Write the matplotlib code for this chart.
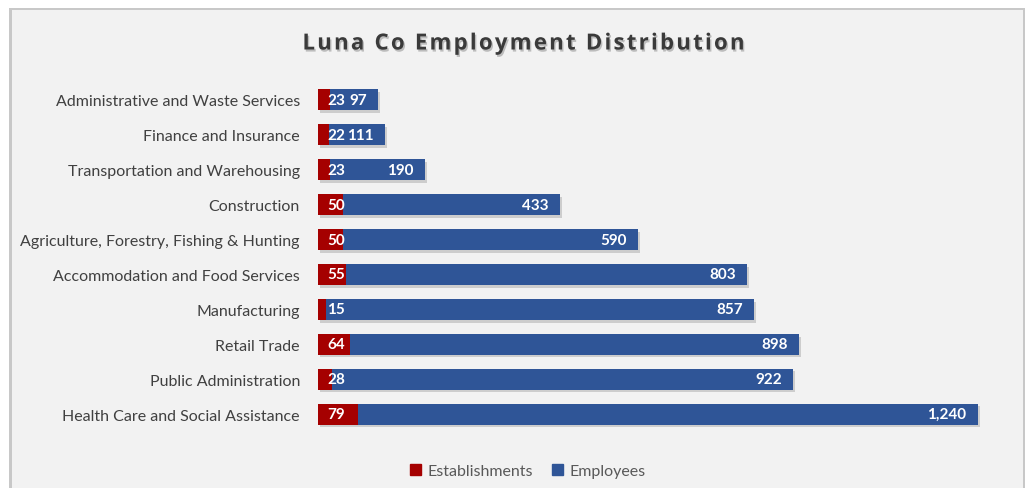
import matplotlib.pyplot as plt
import matplotlib.patheffects as pe
from matplotlib.patches import Rectangle
import numpy as np

# employment by industry, top row first
industries = [
    "Administrative and Waste Services",
    "Finance and Insurance",
    "Transportation and Warehousing",
    "Construction",
    "Agriculture, Forestry, Fishing & Hunting",
    "Accommodation and Food Services",
    "Manufacturing",
    "Retail Trade",
    "Public Administration",
    "Health Care and Social Assistance",
]
establishments = [23, 22, 23, 50, 50, 55, 15, 64, 28, 79]
employees = [97, 111, 190, 433, 590, 803, 857, 898, 922, 1240]
title = "Luna Co Employment Distribution"

red = "#a50000"
blue = "#2f5597"
text_gray = "#404040"

fig = plt.figure(figsize=(10.29, 4.89), dpi=100)
fig.patch.set_facecolor("white")

# chart frame with a soft shadow on the left and top
fig.patches.append(Rectangle((9 / 1029, 0), 1016 / 1029, 480 / 489, transform=fig.transFigure,
                             facecolor="#c8c8c8", edgecolor="none", zorder=-2))
fig.patches.append(Rectangle((12 / 1029, 0), 1011 / 1029, 478 / 489, transform=fig.transFigure,
                             facecolor="#f2f2f2", edgecolor="none", zorder=-1))

ax = fig.add_axes([318 / 1029, 56.5 / 489, 700 / 1029, 349 / 489])
ax.set_facecolor("none")

y = np.arange(len(industries))
shadow = [pe.SimplePatchShadow(offset=(1.5, -2), shadow_rgbFace="#8a8a8a", alpha=0.35), pe.Normal()]
b1 = ax.barh(y, establishments, height=0.6, color=red, label="Establishments", path_effects=shadow)
b2 = ax.barh(y, employees, left=establishments, height=0.6, color=blue, label="Employees",
             path_effects=shadow)

for i in range(len(industries)):
    ax.annotate(f"{establishments[i]:,}", (0, y[i]), xytext=(6.5, 0), textcoords="offset points",
                ha="left", va="center", color="white", fontsize=11, fontweight="bold",
                family="Lato")
    ax.annotate(f"{employees[i]:,}", (establishments[i] + employees[i], y[i]), xytext=(-8, 0),
                textcoords="offset points", ha="right", va="center", color="white",
                fontsize=11, fontweight="bold", family="Lato")

ax.set_xlim(0, 1400)
ax.set_ylim(len(industries) - 0.5, -0.5)
ax.set_yticks(y)
ax.set_yticklabels(industries, fontsize=11.5, color=text_gray, family="Lato")
ax.tick_params(axis="y", length=0, pad=13)
ax.set_xticks([])
for s in ax.spines.values():
    s.set_visible(False)

# spaced-out title with a drop shadow
fig.text(524 / 1029, 1 - 45 / 489, "\u200a".join(title), ha="center", va="center",
         fontsize=16, fontweight="bold", color="#3a3a3a", family="Open Sans",
         path_effects=[pe.withSimplePatchShadow(offset=(1, -1.5), shadow_rgbFace="#999999", alpha=0.6)])

handles = [Rectangle((0, 0), 1, 1, color=red), Rectangle((0, 0), 1, 1, color=blue)]
fig.legend(handles=handles, labels=["Establishments", "Employees"], loc="center",
           bbox_to_anchor=(528 / 1029, 1 - 472 / 489), ncol=2, frameon=False,
           handlelength=0.7, handleheight=0.7, handletextpad=0.4, columnspacing=1.2,
           prop={"family": "Lato", "size": 11.5}, labelcolor="#595959")

fig.savefig("out.png", dpi=100)
